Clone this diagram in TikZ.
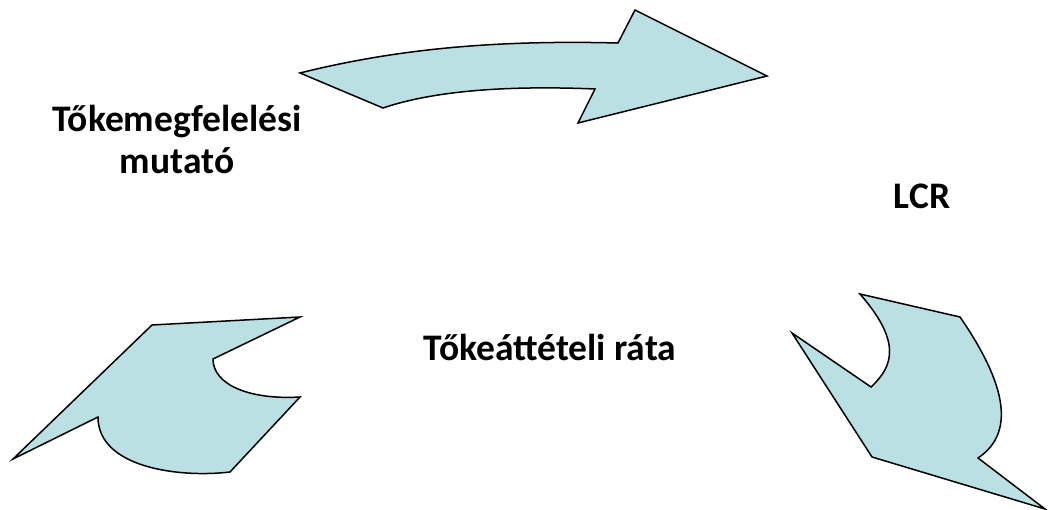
\documentclass[tikz,border=0pt]{standalone}
\usepackage{fontspec}
\setmainfont{Carlito}
\begin{document}
\begin{tikzpicture}[x=1pt,y=-1pt,
  arrowshape/.style={fill=arrowfill,draw=black,line width=1.5pt,line join=miter},
  lbl/.style={font=\fontsize{37.5}{42}\selectfont\bfseries,align=center,inner sep=0pt}]
\definecolor{arrowfill}{HTML}{BBE0E3}
\useasboundingbox (0,0) rectangle (1048,510);
% top arrow
\draw[arrowshape] (300,73) .. controls (400,48) and (500,40) .. (618,43)
  -- (635,10) -- (767,76) -- (578,123) -- (595,89)
  .. controls (500,85) and (430,92) .. (383,108) -- cycle;
% bottom-left arrow
\draw[arrowshape] (152,325) -- (300,317) -- (213,359)
  .. controls (213,385) and (250,400) .. (300,397)
  -- (230,472) .. controls (180,478) and (98,468) .. (98,417)
  -- (13,459) -- cycle;
% bottom-right arrow
\draw[arrowshape] (860,294) -- (960,317)
  .. controls (1000,375) and (1020,430) .. (978,458)
  -- (1045,509) -- (872,457) -- (792,333) -- (871,387)
  .. controls (895,365) and (900,340) .. cycle;
\node[lbl] (cap) at (177,139) {Tőkemegfelelési\\mutató};
\node[lbl] (lcr) at (922,196) {LCR};
\node[lbl] (lev) at (550,347) {Tőkeáttételi ráta};
\end{tikzpicture}
\end{document}
